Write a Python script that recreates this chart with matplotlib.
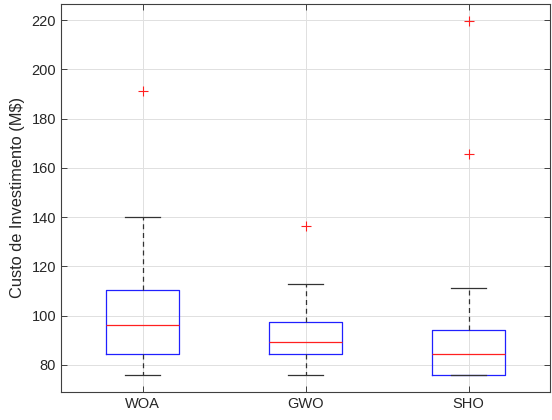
import matplotlib
matplotlib.use("Agg")
import matplotlib.pyplot as plt

plt.rcParams["font.family"] = ["Liberation Sans", "DejaVu Sans"]

algoritmos = ["WOA", "GWO", "SHO"]
whisk_lo = [76.0, 76.0, 76.0]
q1 = [84.5, 84.5, 76.0]
medianas = [96.3, 89.4, 84.5]
q3 = [110.5, 97.5, 94.2]
whisk_hi = [140.0, 113.0, 111.3]
outliers = [[191.2], [136.4], [219.6, 165.6]]

stats = []
for i, nome in enumerate(algoritmos):
    stats.append({
        "label": nome,
        "whislo": whisk_lo[i],
        "q1": q1[i],
        "med": medianas[i],
        "q3": q3[i],
        "whishi": whisk_hi[i],
        "fliers": outliers[i],
    })

fig = plt.figure(figsize=(5.52, 4.2), dpi=100)
ax = fig.add_axes([0.1105, 0.0667, 0.886, 0.9238])

ax.bxp(
    stats,
    positions=[1, 2, 3],
    widths=0.45,
    showfliers=True,
    boxprops=dict(color="#2020ff", lw=0.9),
    medianprops=dict(color="#ff2020", lw=0.9),
    whiskerprops=dict(color="#333333", lw=0.9, ls=(0, (4, 3))),
    capprops=dict(color="#333333", lw=0.9),
    flierprops=dict(marker="+", markeredgecolor="#ff2020", markersize=7,
                    markeredgewidth=0.8, ls="none", zorder=4),
    capwidths=0.22,
)

ax.set_xlim(0.5, 3.5)
ax.set_ylim(69, 226.5)
ax.set_yticks(range(80, 221, 20))
ax.set_xticks([1, 2, 3])
ax.set_xticklabels(algoritmos)
ax.set_ylabel("Custo de Investimento (M\\$)", fontsize=11.8, color="#262626", labelpad=5)

ax.grid(True, color="#e0e0e0", lw=0.7)
ax.set_axisbelow(True)
ax.tick_params(direction="in", top=True, right=True, labelsize=10.5, colors="#262626", length=4, width=0.6)
for s in ax.spines.values():
    s.set_color("#404040")
    s.set_linewidth(0.8)

fig.savefig("out.png", dpi=100)
